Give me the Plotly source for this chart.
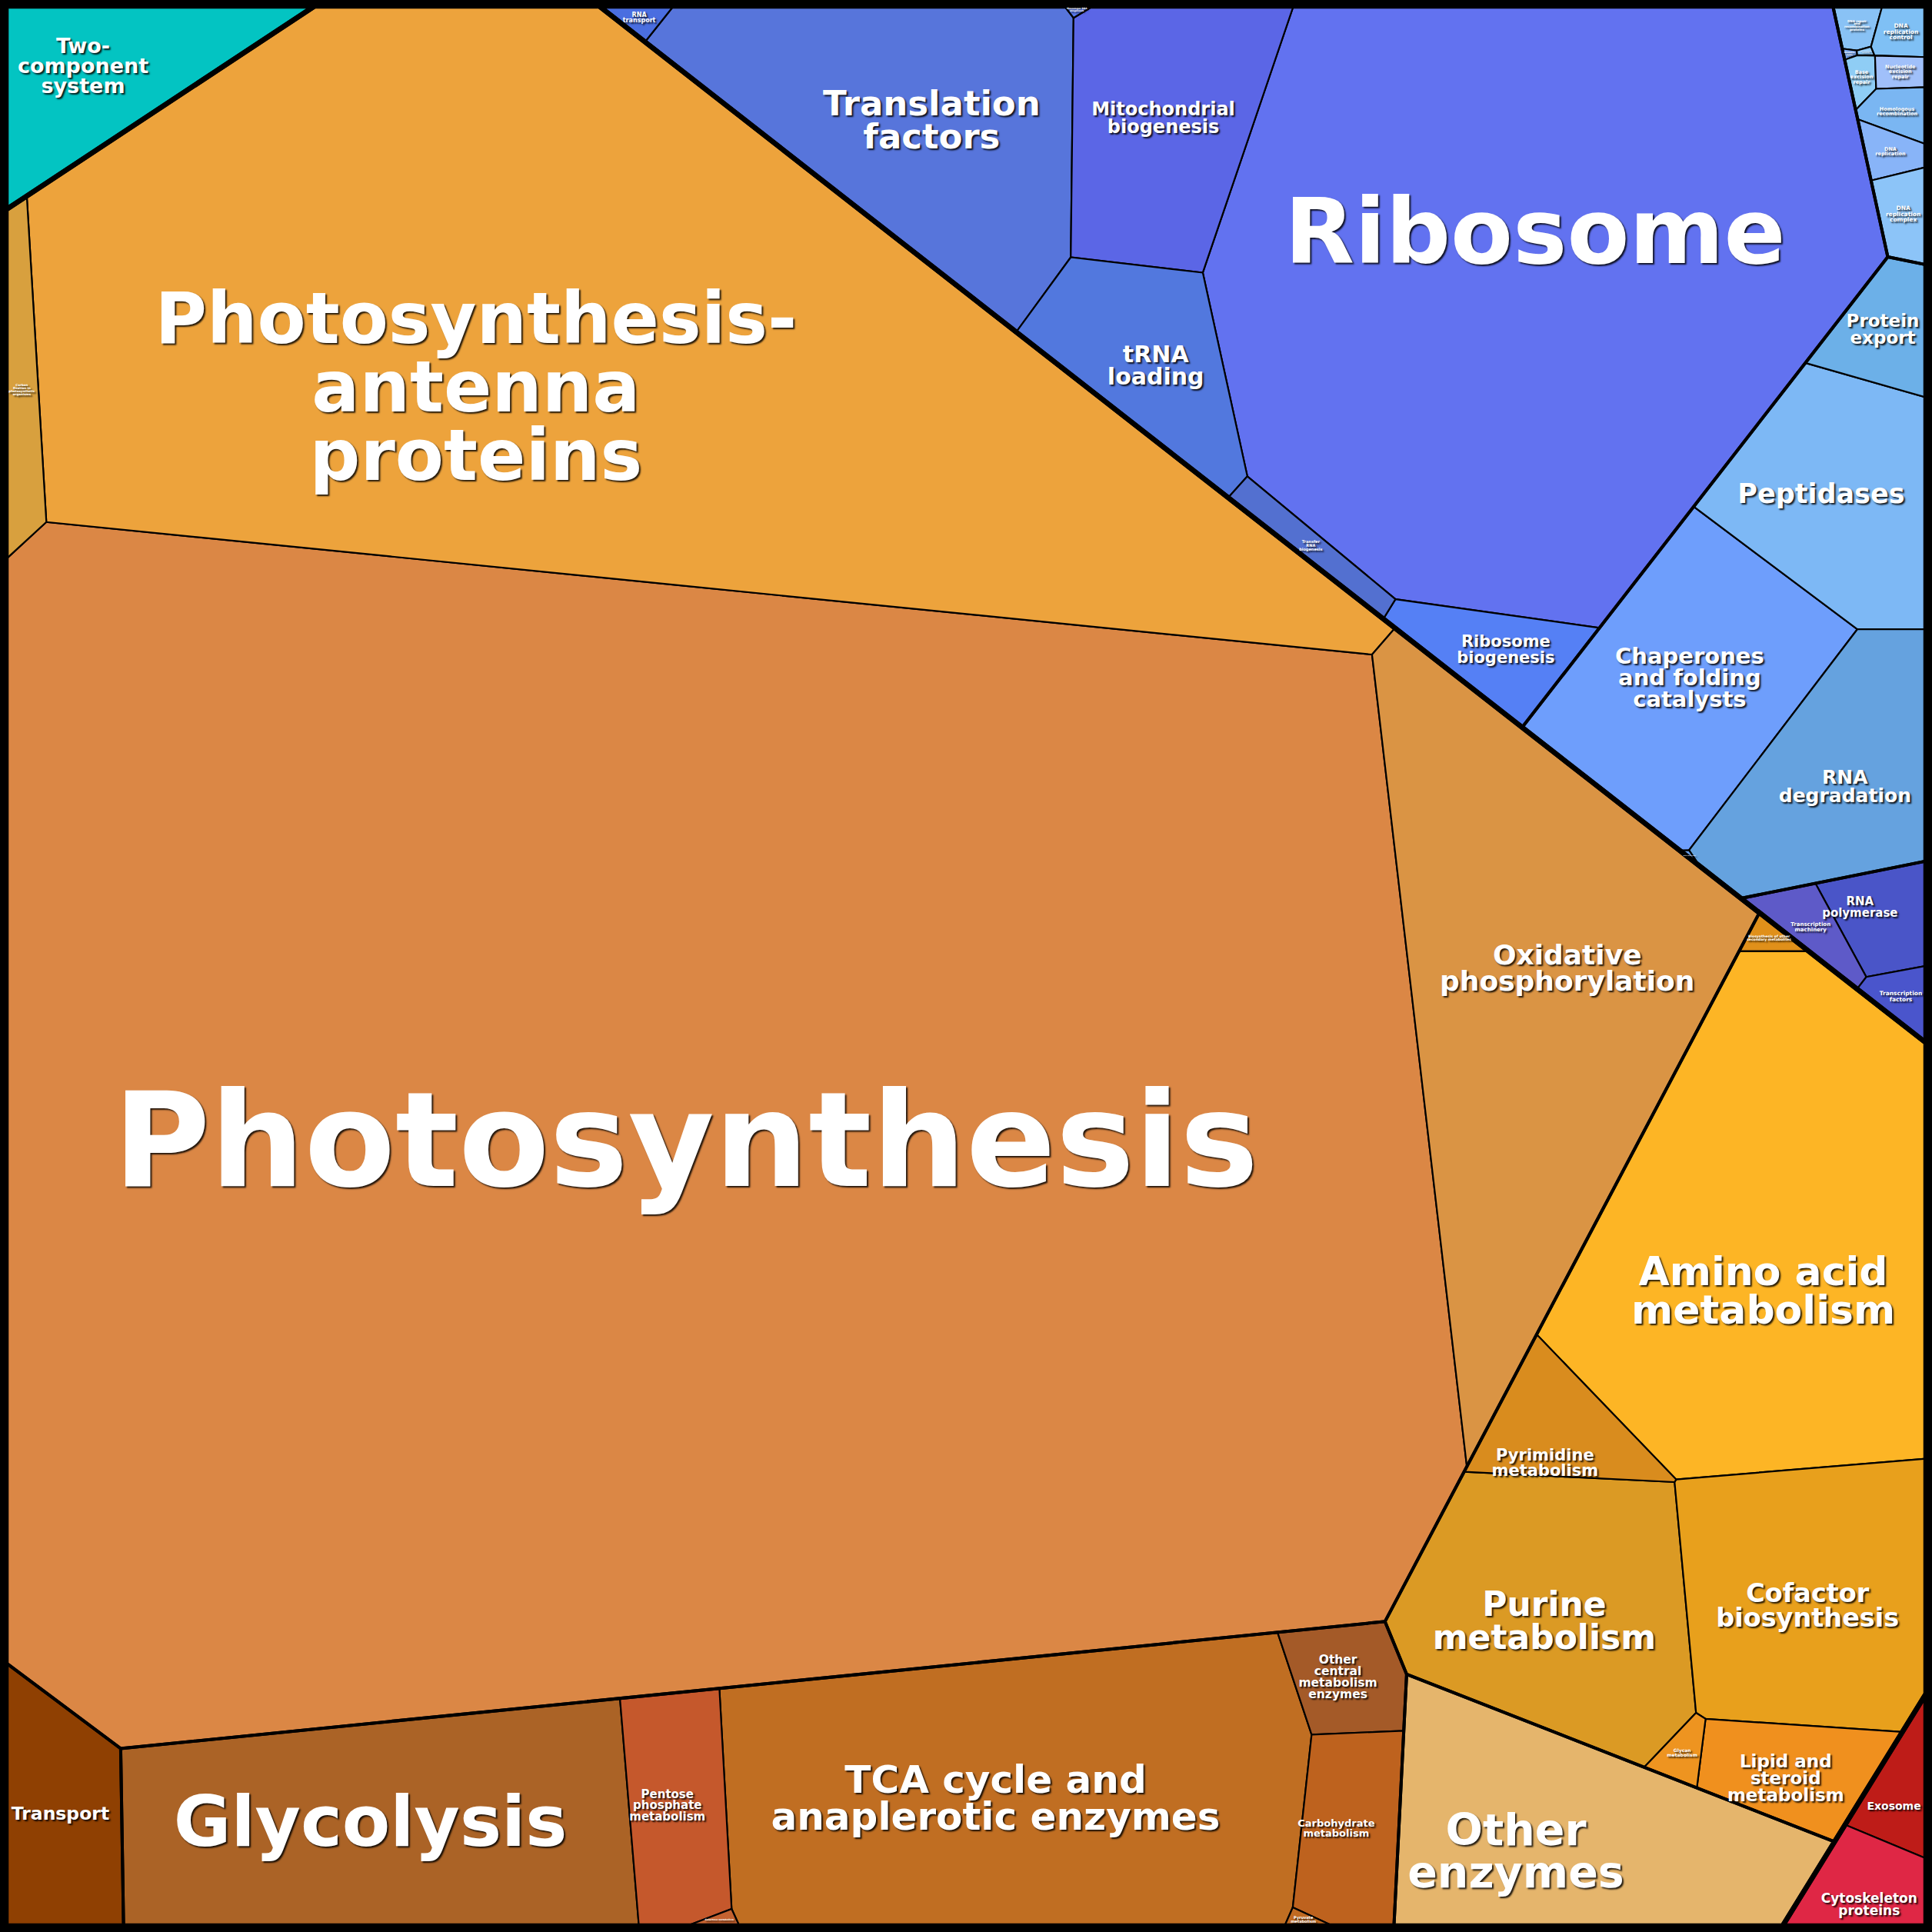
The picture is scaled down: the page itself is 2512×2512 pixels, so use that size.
import numpy as np
import plotly.graph_objects as go

# Share of total protein mass (%) per functional category
ENERGY_NAMES = ["Photosynthesis", "Photosynthesis-antenna proteins",
                "Oxidative phosphorylation", "Carbon fixation in photosynthetic organisms"]
ENERGY_VALUES = [42.0, 14.05, 4.15, 0.285]

CARB_NAMES = ["Glycolysis", "TCA cycle and anaplerotic enzymes", "Pentose phosphate metabolism",
              "Galactose metabolism", "Other central metabolism enzymes",
              "Carbohydrate metabolism", "Pyruvate metabolism"]
CARB_VALUES = [2.79, 4.14, 0.60, 0.012, 0.31, 0.50, 0.012]

OTHER_MET_NAMES = ["Amino acid metabolism", "Purine metabolism", "Cofactor biosynthesis",
                   "Lipid and steroid metabolism", "Pyrimidine metabolism", "Glycan metabolism",
                   "Biosynthesis of other secondary metabolites"]
OTHER_MET_VALUES = [4.03, 1.82, 1.66, 0.44, 0.41, 0.063, 0.036]

OTHER_ENZ_NAMES = ["Other enzymes"]
OTHER_ENZ_VALUES = [1.93]
TRANSPORT_NAMES = ["Transport"]
TRANSPORT_VALUES = [0.69]
SIGNAL_NAMES = ["Two-component system"]
SIGNAL_VALUES = [0.85]
CELL_NAMES = ["Exosome", "Cytoskeleton proteins"]
CELL_VALUES = [0.18, 0.27]

TRANSLATION_NAMES = ["Ribosome", "Translation factors", "Mitochondrial biogenesis", "tRNA loading",
                     "Ribosome biogenesis", "Transfer RNA biogenesis", "RNA transport",
                     "Messenger RNA biogenesis"]
TRANSLATION_VALUES = [8.83, 2.24, 1.24, 0.80, 0.36, 0.136, 0.036, 0.0045]

FOLDING_NAMES = ["Chaperones and folding catalysts", "Peptidases", "RNA degradation",
                 "Protein export", "Sulfur relay system"]
FOLDING_VALUES = [1.57, 1.13, 1.10, 0.28, 0.002]

REPLICATION_NAMES = ["DNA repair and recombination proteins", "Mismatch repair",
                     "Non-homologous end-joining", "DNA replication control",
                     "Base excision repair", "Nucleotide excision repair",
                     "Homologous recombination", "DNA replication", "DNA replication complex"]
REPLICATION_VALUES = [0.045, 0.003, 0.003, 0.068, 0.032, 0.043, 0.076, 0.069, 0.11]

TRANSCRIPTION_NAMES = ["RNA polymerase", "Transcription machinery", "Transcription factors"]
TRANSCRIPTION_VALUES = [0.24, 0.135, 0.08]

TREE = [
    ("Metabolism", [
        ("Energy metabolism", ENERGY_NAMES, ENERGY_VALUES),
        ("Central carbon metabolism", CARB_NAMES, CARB_VALUES),
        ("Other metabolism", OTHER_MET_NAMES, OTHER_MET_VALUES),
        ("Other enzymes", OTHER_ENZ_NAMES, OTHER_ENZ_VALUES),
        ("Transport", TRANSPORT_NAMES, TRANSPORT_VALUES),
    ]),
    ("Genetic information processing", [
        ("Translation", TRANSLATION_NAMES, TRANSLATION_VALUES),
        ("Replication and repair", REPLICATION_NAMES, REPLICATION_VALUES),
        ("Folding, sorting and degradation", FOLDING_NAMES, FOLDING_VALUES),
        ("Transcription", TRANSCRIPTION_NAMES, TRANSCRIPTION_VALUES),
    ]),
    ("Environmental information processing", [
        ("Signal transduction", SIGNAL_NAMES, SIGNAL_VALUES),
    ]),
    ("Cellular processes", [
        ("Cellular community", CELL_NAMES, CELL_VALUES),
    ]),
]

# Layout: generator points of the power diagram (in a 1568 x 1568 frame, y down)
SITES = {
    "Metabolism": (700, 950),
    "Genetic information processing": (1254, 241),
    "Environmental information processing": (149, 115),
    "Cellular processes": (1508, 1449),
    "Energy metabolism": (593, 743),
    "Central carbon metabolism": (665, 1460),
    "Other metabolism": (1388, 1163),
    "Other enzymes": (1260, 1490),
    "Transport": (50, 1470),
    "Translation": (1110, 208),
    "Replication and repair": (1535, 115),
    "Folding, sorting and degradation": (1460, 480),
    "Transcription": (1516, 758),
    "Signal transduction": (149, 115),
    "Cellular community": (1520, 1500),
    "Photosynthesis": (560, 900),
    "Photosynthesis-antenna proteins": (622, 280),
    "Oxidative phosphorylation": (1245, 820),
    "Carbon fixation in photosynthetic organisms": (22, 316),
    "Glycolysis": (300, 1485),
    "TCA cycle and anaplerotic enzymes": (810, 1450),
    "Pentose phosphate metabolism": (540, 1465),
    "Galactose metabolism": (575, 1557),
    "Other central metabolism enzymes": (1080, 1360),
    "Carbohydrate metabolism": (1085, 1480),
    "Pyruvate metabolism": (1050, 1556),
    "Amino acid metabolism": (1440, 1000),
    "Purine metabolism": (1250, 1320),
    "Cofactor biosynthesis": (1465, 1300),
    "Lipid and steroid metabolism": (1455, 1450),
    "Pyrimidine metabolism": (1257, 1176),
    "Glycan metabolism": (1376, 1440),
    "Biosynthesis of other secondary metabolites": (1440, 772),
    "Two-component system": (90, 60),
    "Exosome": (1542, 1458),
    "Cytoskeleton proteins": (1510, 1535),
    "Ribosome": (1250, 250),
    "Translation factors": (690, 145),
    "Mitochondrial biogenesis": (950, 148),
    "tRNA loading": (930, 320),
    "Ribosome biogenesis": (1210, 535),
    "Transfer RNA biogenesis": (1080, 455),
    "RNA transport": (525, 14),
    "Messenger RNA biogenesis": (866, 9),
    "Chaperones and folding catalysts": (1375, 540),
    "Peptidases": (1480, 400),
    "RNA degradation": (1480, 620),
    "Protein export": (1520, 260),
    "Sulfur relay system": (1380, 688),
    "DNA repair and recombination proteins": (1506, 21),
    "Mismatch repair": (1503, 44),
    "Non-homologous end-joining": (1512, 43),
    "DNA replication control": (1542, 31),
    "Base excision repair": (1512, 69),
    "Nucleotide excision repair": (1541, 68),
    "Homologous recombination": (1542, 98),
    "DNA replication": (1531, 128),
    "DNA replication complex": (1542, 173),
    "RNA polymerase": (1527, 737),
    "Transcription machinery": (1481, 762),
    "Transcription factors": (1540, 807),
}

# name: (fill colour, font size in px, label lines)
STYLE = {
    "Photosynthesis": ("#DB8745", 172, ["Photosynthesis"]),
    "Photosynthesis-antenna proteins": ("#EDA33C", 92, ["Photosynthesis-", "antenna", "proteins"]),
    "Oxidative phosphorylation": ("#DA9444", 36, ["Oxidative", "phosphorylation"]),
    "Carbon fixation in photosynthetic organisms": ("#D8A03E", 4, ["Carbon", "fixation in", "photosynthetic", "organisms"]),
    "Glycolysis": ("#AB6326", 91, ["Glycolysis"]),
    "TCA cycle and anaplerotic enzymes": ("#C06E22", 50, ["TCA cycle and", "anaplerotic enzymes"]),
    "Pentose phosphate metabolism": ("#C5582C", 15, ["Pentose", "phosphate", "metabolism"]),
    "Galactose metabolism": ("#C46230", 3, ["Galactose metabolism"]),
    "Other central metabolism enzymes": ("#A45A28", 15.5, ["Other", "central", "metabolism", "enzymes"]),
    "Carbohydrate metabolism": ("#BE621E", 13, ["Carbohydrate", "metabolism"]),
    "Pyruvate metabolism": ("#C06A22", 5, ["Pyruvate", "metabolism"]),
    "Amino acid metabolism": ("#FDB525", 52, ["Amino acid", "metabolism"]),
    "Purine metabolism": ("#DB9A24", 44, ["Purine", "metabolism"]),
    "Cofactor biosynthesis": ("#E8A01C", 33.5, ["Cofactor", "biosynthesis"]),
    "Lipid and steroid metabolism": ("#F0901E", 23, ["Lipid and", "steroid", "metabolism"]),
    "Pyrimidine metabolism": ("#D98C1E", 21, ["Pyrimidine", "metabolism"]),
    "Glycan metabolism": ("#EE9420", 6, ["Glycan", "metabolism"]),
    "Biosynthesis of other secondary metabolites": ("#E0901A", 4.5, ["Biosynthesis of other", "secondary metabolites"]),
    "Other enzymes": ("#E5B56C", 57, ["Other", "enzymes"]),
    "Transport": ("#8F4002", 23.5, ["Transport"]),
    "Two-component system": ("#03C4C2", 27, ["Two-", "component", "system"]),
    "Exosome": ("#BE1C18", 14, ["Exosome"]),
    "Cytoskeleton proteins": ("#DF2745", 17, ["Cytoskeleton", "proteins"]),
    "Ribosome": ("#6272F0", 118, ["Ribosome"]),
    "Translation factors": ("#5775DB", 45, ["Translation", "factors"]),
    "Mitochondrial biogenesis": ("#5B66E6", 24, ["Mitochondrial", "biogenesis"]),
    "tRNA loading": ("#5278DE", 30, ["tRNA", "loading"]),
    "Ribosome biogenesis": ("#5580F5", 21, ["Ribosome", "biogenesis"]),
    "Transfer RNA biogenesis": ("#5370D0", 5, ["Transfer", "RNA", "biogenesis"]),
    "RNA transport": ("#4A6EE0", 8, ["RNA", "transport"]),
    "Messenger RNA biogenesis": ("#5A7AF0", 3, ["Messenger RNA", "biogenesis"]),
    "Chaperones and folding catalysts": ("#6E9EFC", 29, ["Chaperones", "and folding", "catalysts"]),
    "Peptidases": ("#7DB8F5", 35, ["Peptidases"]),
    "RNA degradation": ("#65A2DF", 25, ["RNA", "degradation"]),
    "Protein export": ("#6CB0E8", 23, ["Protein", "export"]),
    "Sulfur relay system": ("#6A9EE8", 1.5, ["Sulfur relay system"]),
    "DNA repair and recombination proteins": ("#89C2F5", 4, ["DNA repair", "and", "recombination", "proteins"]),
    "Mismatch repair": ("#7AA8F0", 2.5, ["Mismatch", "repair"]),
    "Non-homologous end-joining": ("#8EC8F8", 1.5, ["Non-homologous", "end-joining"]),
    "DNA replication control": ("#7FC0F5", 7.5, ["DNA", "replication", "control"]),
    "Base excision repair": ("#8FCDF5", 6.5, ["Base", "excision", "repair"]),
    "Nucleotide excision repair": ("#A0C0FA", 6.5, ["Nucleotide", "excision", "repair"]),
    "Homologous recombination": ("#7AB6F2", 6.5, ["Homologous", "recombination"]),
    "DNA replication": ("#88B4F8", 6.5, ["DNA", "replication"]),
    "DNA replication complex": ("#8CC4F8", 7.5, ["DNA", "replication", "complex"]),
    "RNA polymerase": ("#4A55C8", 15, ["RNA", "polymerase"]),
    "Transcription machinery": ("#5E5AC8", 7, ["Transcription", "machinery"]),
    "Transcription factors": ("#4A55CC", 7.5, ["Transcription", "factors"]),
}

# small nudges of label anchors away from the cell centroid (frame units)
LABEL_SHIFT = {
    "Photosynthesis": (0, 10),
    "Photosynthesis-antenna proteins": (-90, 35),
    "Ribosome": (3, -32),
    "Amino acid metabolism": (-3, 44),
    "Oxidative phosphorylation": (29, -21),
    "Purine metabolism": (-10, 13),
    "Other enzymes": (-47, 18),
    "Glycolysis": (-13, 3),
    "TCA cycle and anaplerotic enzymes": (-22, 8),
    "Two-component system": (-21, -5),
    "Translation factors": (15, 0),
    "Mitochondrial biogenesis": (0, -5),
    "tRNA loading": (8, 9),
    "Ribosome biogenesis": (9, 0),
    "Peptidases": (-12, 0),
    "RNA degradation": (9, 8),
    "Cofactor biosynthesis": (0, 11),
    "Pyrimidine metabolism": (-12, 28),
    "Lipid and steroid metabolism": (-6, 8),
    "Pentose phosphate metabolism": (-8, 0),
    "Other central metabolism enzymes": (-8, 0),
    "Carbohydrate metabolism": (-12, 0),
    "Exosome": (-4, 12),
    "Cytoskeleton proteins": (4, 16),
    "RNA polymerase": (-18, -7),
}

FRAME = 1568
SQUARE = [(5, 5), (1563, 5), (1563, 1563), (5, 1563)]
PX = FRAME / 2512  # data units per screen pixel


def poly_area(poly):
    p = np.asarray(poly, float)
    x, y = p[:, 0], p[:, 1]
    return 0.5 * abs(np.dot(x, np.roll(y, -1)) - np.dot(y, np.roll(x, -1)))


def poly_centroid(poly):
    p = np.asarray(poly, float)
    x, y = p[:, 0], p[:, 1]
    x1, y1 = np.roll(x, -1), np.roll(y, -1)
    cr = x * y1 - x1 * y
    a = cr.sum() / 2
    return ((x + x1) * cr).sum() / (6 * a), ((y + y1) * cr).sum() / (6 * a)


def clip_halfplane(poly, a, b, c):
    """Keep the part of a convex polygon where a*x + b*y <= c."""
    out = []
    n = len(poly)
    for k in range(n):
        px, py = poly[k]
        qx, qy = poly[(k + 1) % n]
        fp = a * px + b * py - c
        fq = a * qx + b * qy - c
        if fp <= 0:
            out.append((px, py))
        if (fp < 0 < fq) or (fq < 0 < fp):
            t = fp / (fp - fq)
            out.append((px + t * (qx - px), py + t * (qy - py)))
    return out


def power_cells(region, sites, weights):
    cells = []
    n = len(sites)
    for i in range(n):
        poly = list(region)
        px, py = sites[i]
        for j in range(n):
            if j == i:
                continue
            qx, qy = sites[j]
            c = qx * qx + qy * qy - px * px - py * py - weights[j] + weights[i]
            poly = clip_halfplane(poly, 2 * (qx - px), 2 * (qy - py), c)
            if len(poly) < 3:
                poly = []
                break
        cells.append(poly)
    return cells


def area_jacobian(cells, sites, weights):
    n = len(sites)
    J = np.zeros((n, n))
    for i, poly in enumerate(cells):
        m = len(poly)
        for k in range(m):
            P = np.array(poly[k])
            Q = np.array(poly[(k + 1) % m])
            L = np.linalg.norm(Q - P)
            if L < 1e-9:
                continue
            for j in range(n):
                if j == i:
                    continue
                d = sites[j] - sites[i]
                dn = np.linalg.norm(d)
                c = (sites[j] @ sites[j] - sites[i] @ sites[i] - weights[j] + weights[i]) / 2
                if abs(P @ d - c) / dn < 1e-5 and abs(Q @ d - c) / dn < 1e-5:
                    J[i, i] += L / (2 * dn)
                    J[i, j] -= L / (2 * dn)
    return J


def fit_power(region, sites, values, iters=150):
    """Weighted Voronoi (power diagram) cells with areas proportional to values."""
    sites = np.asarray(sites, float)
    n = len(sites)
    if n == 1:
        return [list(region)]
    target = np.asarray(values, float)
    target = target / target.sum() * poly_area(region)

    def evaluate(w):
        w = w.copy()
        for _ in range(n + 1):
            cells = power_cells(region, sites, w)
            areas = np.array([poly_area(c) if c else 0.0 for c in cells])
            empty = np.where(areas <= 0)[0]
            if len(empty) == 0:
                break
            for i in empty:
                others = [j for j in range(n) if j != i]
                pw = [np.sum((sites[i] - sites[j]) ** 2) - w[j] for j in others]
                dmin = min(np.linalg.norm(sites[i] - sites[j]) for j in others)
                w[i] = -min(pw) + dmin * np.sqrt(target[i])
        return w, cells, areas

    w, cells, areas = evaluate(np.zeros(n))
    err = np.abs(target - areas).sum()
    for _ in range(iters):
        if np.max(np.abs(target - areas) / target) < 1e-4:
            break
        J = area_jacobian(cells, sites, w)
        dw = np.linalg.lstsq(J, target - areas, rcond=None)[0]
        step = 1.0
        for _ in range(14):
            w2, c2, a2 = evaluate(w + step * dw)
            e2 = np.abs(target - a2).sum()
            if e2 < err:
                break
            step *= 0.5
        w, cells, areas, err = w2, c2, a2, e2
    return cells


# Build the hierarchical Voronoi treemap
top_polys, mid_polys, leaf_polys = [], [], []
top_values = [sum(sum(g[2]) for g in groups) for _, groups in TREE]
top_cells = fit_power(SQUARE, [SITES[t] for t, _ in TREE], top_values)
for (tname, groups), tcell in zip(TREE, top_cells):
    top_polys.append(tcell)
    mid_cells = fit_power(tcell, [SITES[g[0]] for g in groups], [sum(g[2]) for g in groups])
    for (gname, names, vals), gcell in zip(groups, mid_cells):
        mid_polys.append(gcell)
        for name, cell in zip(names, fit_power(gcell, [SITES[n] for n in names], vals)):
            leaf_polys.append((name, cell))


def closed(poly):
    xs = [p[0] for p in poly] + [poly[0][0]]
    ys = [p[1] for p in poly] + [poly[0][1]]
    return xs, ys


fig = go.Figure()

for name, cell in leaf_polys:
    if not cell:
        continue
    xs, ys = closed(cell)
    fig.add_trace(go.Scatter(
        x=xs, y=ys, mode="lines", fill="toself", fillcolor=STYLE[name][0],
        line=dict(color="black", width=2.2), hoverinfo="skip", showlegend=False
    ))

for cell in mid_polys:
    xs, ys = closed(cell)
    fig.add_trace(go.Scatter(x=xs, y=ys, mode="lines", line=dict(color="black", width=4),
                             hoverinfo="skip", showlegend=False))

for cell in top_polys:
    xs, ys = closed(cell)
    fig.add_trace(go.Scatter(x=xs, y=ys, mode="lines", line=dict(color="black", width=6.5),
                             hoverinfo="skip", showlegend=False))

# Labels: one text item per line, stacked around the (nudged) cell centroid
tx, ty, tt, ts = [], [], [], []
for name, cell in leaf_polys:
    if not cell:
        continue
    cx, cy = poly_centroid(cell)
    dx, dy = LABEL_SHIFT.get(name, (0, 0))
    _, size, lines = STYLE[name]
    step = 0.97 * size * PX
    for k, line in enumerate(lines):
        tx.append(cx + dx)
        ty.append(cy + dy + (k - (len(lines) - 1) / 2) * step)
        tt.append(line)
        ts.append(size)

fig.add_trace(go.Scatter(
    x=tx, y=ty, text=tt, mode="text", textposition="middle center",
    textfont=dict(family="DejaVu Sans", size=ts, color="white", weight="bold",
                  shadow="2px 2px 2px rgba(0,0,0,0.85)"),
    hoverinfo="skip", showlegend=False, cliponaxis=False
))

fig.update_xaxes(range=[0, FRAME], visible=False, fixedrange=True)
fig.update_yaxes(range=[FRAME, 0], visible=False, fixedrange=True)
fig.update_layout(
    width=2512, height=2512,
    margin=dict(l=0, r=0, t=0, b=0, pad=0),
    paper_bgcolor="black", plot_bgcolor="black",
)

fig.write_html(
    "out.html",
    config={"displayModeBar": False},
    post_script="document.body.style.margin='0px';document.body.style.background='black';"
                "document.body.style.overflow='hidden';",
)
